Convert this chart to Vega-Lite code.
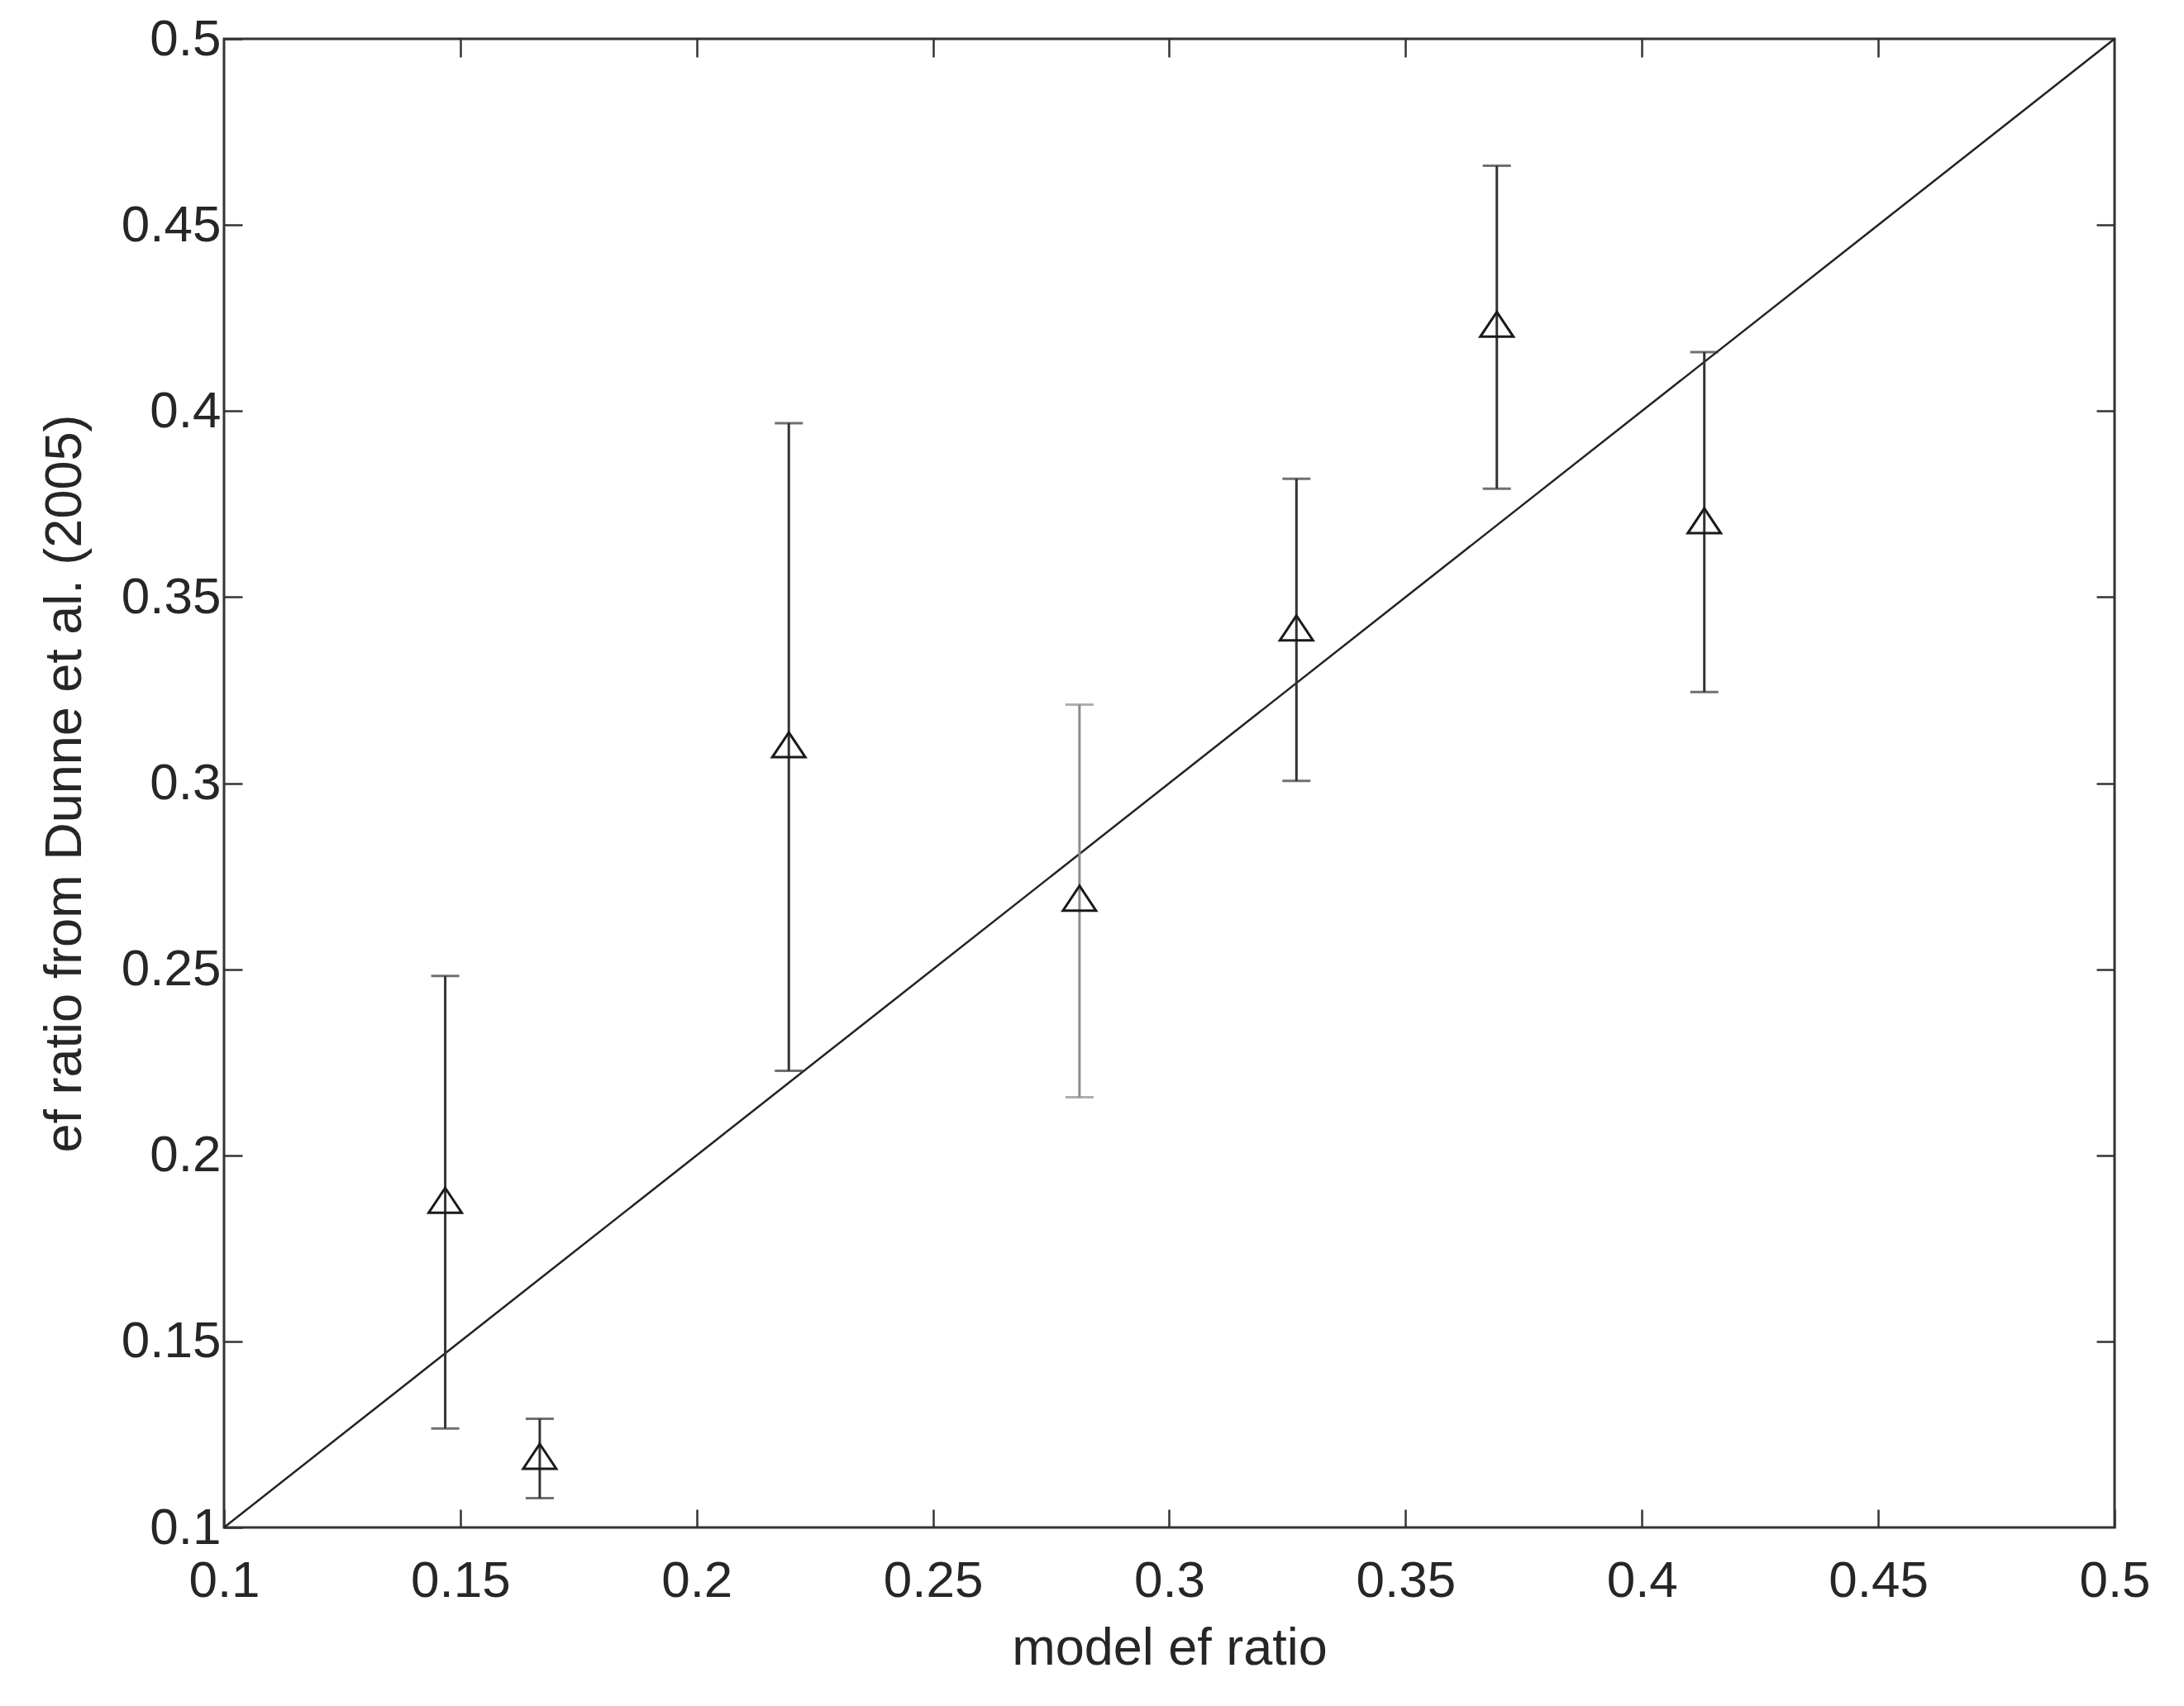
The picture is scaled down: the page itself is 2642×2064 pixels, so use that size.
{
  "$schema": "https://vega.github.io/schema/vega-lite/v6.json",
  "autosize": {"type": "none"},
  "padding": {"left": 271, "top": 47, "right": 84, "bottom": 216},
  "width": 2287,
  "height": 1801,
  "background": "white",
  "config": {
    "view": {"stroke": "#333333", "strokeWidth": 3},
    "font": "Liberation Sans",
    "axis": {
      "grid": false,
      "domain": false,
      "ticks": true,
      "tickSize": -22,
      "tickWidth": 2.5,
      "tickColor": "#333333",
      "labelFlush": false,
      "labelOverlap": false,
      "labelFont": "Liberation Sans",
      "labelFontSize": 62,
      "labelColor": "#262626",
      "titleFont": "Liberation Sans",
      "titleFontSize": 63,
      "titleFontWeight": "normal",
      "titleColor": "#262626"
    }
  },
  "datasets": {
    "obs": [
      {"model": 0.1468, "ef": 0.1879, "lo": 0.1266, "hi": 0.2482},
      {"model": 0.1668, "ef": 0.1191, "lo": 0.1079, "hi": 0.1292},
      {"model": 0.2195, "ef": 0.3103, "lo": 0.2227, "hi": 0.3967},
      {"model": 0.2810, "ef": 0.2691, "lo": 0.2156, "hi": 0.3211},
      {"model": 0.3269, "ef": 0.3417, "lo": 0.3006, "hi": 0.3818},
      {"model": 0.3693, "ef": 0.4233, "lo": 0.3791, "hi": 0.4659},
      {"model": 0.4132, "ef": 0.3705, "lo": 0.3245, "hi": 0.4158}
    ],
    "diag": [
      {"model": 0.1, "ef": 0.1},
      {"model": 0.5, "ef": 0.5}
    ]
  },
  "resolve": {"axis": {"x": "independent", "y": "independent"}},
  "layer": [
    {
      "data": {"name": "diag"},
      "mark": {"type": "line", "color": "#222222", "strokeWidth": 2.5},
      "encoding": {
        "x": {
          "field": "model", "type": "quantitative",
          "scale": {"domain": [0.1, 0.5], "nice": false, "zero": false},
          "axis": {
            "orient": "bottom",
            "values": [0.1, 0.15, 0.2, 0.25, 0.3, 0.35, 0.4, 0.45, 0.5],
            "format": ".2~f",
            "labelPadding": 56,
            "labelBaseline": "top",
            "title": "model ef ratio",
            "titleBaseline": "alphabetic",
            "titleX": 1143.5,
            "titleY": 165,
            "titleAnchor": "middle"
          }
        },
        "y": {
          "field": "ef", "type": "quantitative",
          "scale": {"domain": [0.1, 0.5], "nice": false, "zero": false},
          "axis": {
            "orient": "left",
            "values": [0.1, 0.15, 0.2, 0.25, 0.3, 0.35, 0.4, 0.45, 0.5],
            "format": ".2~f",
            "labelPadding": 26,
            "title": "ef ratio from Dunne et al. (2005)",
            "titleAngle": -90,
            "titleBaseline": "alphabetic",
            "titleX": -174,
            "titleY": 900.5,
            "titleAnchor": "middle"
          }
        }
      }
    },
    {
      "data": {"name": "obs"},
      "mark": {"type": "rule", "strokeWidth": 3},
      "encoding": {
        "x": {
          "field": "model", "type": "quantitative",
          "axis": {"orient": "top", "values": [0.15, 0.2, 0.25, 0.3, 0.35, 0.4, 0.45], "labels": false, "title": null}
        },
        "y": {
          "field": "lo", "type": "quantitative",
          "axis": {"orient": "right", "values": [0.15, 0.2, 0.25, 0.3, 0.35, 0.4, 0.45], "labels": false, "title": null}
        },
        "y2": {"field": "hi"},
        "color": {"condition": {"test": "datum.model > 0.27 && datum.model < 0.29", "value": "#8c8c8c"}, "value": "#333333"}
      }
    },
    {
      "data": {"name": "obs"},
      "mark": {"type": "tick", "orient": "horizontal", "size": 34, "thickness": 3},
      "encoding": {
        "x": {"field": "model", "type": "quantitative", "axis": null},
        "y": {"field": "lo", "type": "quantitative", "axis": null},
        "color": {"condition": {"test": "datum.model > 0.27 && datum.model < 0.29", "value": "#8c8c8c"}, "value": "#333333"}
      }
    },
    {
      "data": {"name": "obs"},
      "mark": {"type": "tick", "orient": "horizontal", "size": 34, "thickness": 3},
      "encoding": {
        "x": {"field": "model", "type": "quantitative", "axis": null},
        "y": {"field": "hi", "type": "quantitative", "axis": null},
        "color": {"condition": {"test": "datum.model > 0.27 && datum.model < 0.29", "value": "#8c8c8c"}, "value": "#333333"}
      }
    },
    {
      "data": {"name": "obs"},
      "mark": {
        "type": "point",
        "shape": "M0,-0.75L1,0.75L-1,0.75Z",
        "size": 1600,
        "filled": false,
        "stroke": "#1a1a1a",
        "strokeWidth": 3,
        "opacity": 1
      },
      "encoding": {
        "x": {"field": "model", "type": "quantitative", "axis": null},
        "y": {"field": "ef", "type": "quantitative", "axis": null}
      }
    }
  ]
}
